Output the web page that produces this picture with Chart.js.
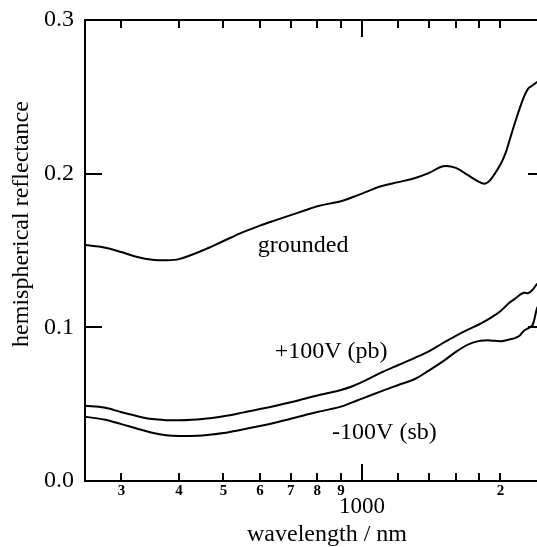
<!DOCTYPE html>
<html>
<head>
<meta charset="utf-8">
<script src="https://cdn.jsdelivr.net/npm/chart.js@4/dist/chart.umd.min.js"></script>
<style>
  html,body{margin:0;padding:0;background:#fff;overflow:hidden;}
  #wrap{width:537px;height:547px;overflow:hidden;}
</style>
</head>
<body>
<div id="wrap"><canvas id="c" width="552" height="547"></canvas></div>
<script>
/* ---- data ------------------------------------------------------------ */
const WAVELENGTH = [250,275,300,325,350,375,400,450,500,550,600,650,700,750,800,850,900,950,
  1000,1100,1200,1300,1400,1500,1600,1700,1800,1850,1900,2000,2050,2100,2150,2200,2250,2300,2350,2400,2450,2500];
const GROUNDED = [0.1536,0.1520,0.1490,0.1458,0.1440,0.1436,0.1444,0.1500,0.1562,0.1618,0.1662,0.1698,0.1730,0.1760,0.1788,0.1805,0.1820,0.1845,
  0.1870,0.1918,0.1945,0.1970,0.2005,0.2048,0.2038,0.1990,0.1945,0.1935,0.1958,0.2060,0.2130,0.2230,0.2330,0.2420,0.2500,0.2555,0.2575,0.2595,0.2610,0.2625];
const PLUS_100V = [0.0490,0.0478,0.0448,0.0422,0.0403,0.0396,0.0395,0.0404,0.0422,0.0445,0.0468,0.0490,0.0512,0.0535,0.0556,0.0574,0.0592,0.0615,
  0.0643,0.0705,0.0755,0.0800,0.0845,0.0898,0.0945,0.0985,0.1020,0.1040,0.1060,0.1105,0.1135,0.1165,0.1185,0.1210,0.1225,0.1223,0.1245,0.1280,0.1300,0.1320];
const MINUS_100V = [0.0418,0.0400,0.0370,0.0340,0.0314,0.0298,0.0293,0.0296,0.0312,0.0335,0.0358,0.0381,0.0405,0.0428,0.0449,0.0466,0.0484,0.0510,
  0.0536,0.0583,0.0625,0.0662,0.0720,0.0778,0.0840,0.0888,0.0912,0.0915,0.0915,0.0910,0.0915,0.0922,0.0930,0.0945,0.0978,0.0995,0.1015,0.1120,0.1180,0.1220];

const X_TICKS = [300,400,500,600,700,800,900,1000,1200,1400,1600,1800,2000];
const X_TICK_LABELS = ["3","4","5","6","7","8","9","1000","","","","","2"];
const Y_TICKS = [0, 0.1, 0.2, 0.3];
const CURVE_LABELS = [
  ["grounded",   745, 0.1531],
  ["+100V (pb)", 857, 0.0841],
  ["-100V (sb)", 1119, 0.0312]
];

const SERIF = "'Liberation Serif','Times New Roman',serif";
const pts = ys => WAVELENGTH.map((w,i)=>({x:w, y:ys[i]}));

/* ---- inward ticks, labels, titles ------------------------------------ */
const decor = {
  id: "decor",
  afterDraw(chart){
    const {ctx, chartArea:a, scales:{x, y}} = chart;
    ctx.save();
    ctx.strokeStyle = "#000"; ctx.lineWidth = 2; ctx.lineCap = "butt";
    ctx.beginPath();
    ctx.moveTo(a.left-1, a.top); ctx.lineTo(a.right, a.top);
    ctx.moveTo(a.right, a.top); ctx.lineTo(a.right, a.bottom);
    X_TICKS.forEach(v=>{
      const px = Math.round(x.getPixelForValue(v));
      const len = v===1000 ? 17 : 8;
      ctx.moveTo(px, a.bottom); ctx.lineTo(px, a.bottom-len);
      ctx.moveTo(px, a.top); ctx.lineTo(px, a.top+len);
    });
    Y_TICKS.slice(1,-1).forEach(v=>{
      const py = Math.round(y.getPixelForValue(v));
      ctx.moveTo(a.left, py); ctx.lineTo(a.left+17, py);
      ctx.moveTo(a.right, py); ctx.lineTo(a.right-17, py);
    });
    ctx.stroke();

    ctx.fillStyle = "#000";
    ctx.textAlign = "center"; ctx.textBaseline = "middle";
    X_TICKS.forEach((v,i)=>{
      const lab = X_TICK_LABELS[i];
      if(!lab) return;
      const px = x.getPixelForValue(v);
      if(v===1000){ ctx.font = "23px "+SERIF; ctx.fillText(lab, px, a.bottom+26); }
      else { ctx.font = "bold 15px "+SERIF; ctx.fillText(lab, px, a.bottom+10); }
    });

    ctx.font = "24px "+SERIF;
    CURVE_LABELS.forEach(([t,w,v])=> ctx.fillText(t, x.getPixelForValue(w), y.getPixelForValue(v)));

    ctx.fillText("wavelength / nm", 327, 535);
    ctx.translate(22, 224); ctx.rotate(-Math.PI/2);
    ctx.fillText("hemispherical reflectance", 0, 0);
    ctx.restore();
  }
};

const line = (data) => ({ data, borderColor:"#000", borderWidth:2, pointRadius:0,
  fill:false, tension:0.35 });

new Chart(document.getElementById("c"), {
  type: "line",
  data: { datasets: [ line(pts(GROUNDED)), line(pts(PLUS_100V)), line(pts(MINUS_100V)) ] },
  options: {
    responsive: false, animation: false,
    layout: { padding: { top: 20, right: 7, left: 0, bottom: 0 } },
    plugins: { legend:{display:false}, tooltip:{enabled:false} },
    scales: {
      x: { type:"logarithmic", min:250, max:2500,
        grid:{display:false, drawTicks:false},
        border:{display:true, color:"#000", width:2},
        ticks:{display:false},
        afterFit: s => { s.height = 66; s.paddingLeft = 0; s.paddingRight = 0; } },
      y: { min:0, max:0.3,
        grid:{display:false, drawTicks:false},
        border:{display:true, color:"#000", width:2},
        afterBuildTicks: s => { s.ticks = Y_TICKS.map(v=>({value:v})); },
        ticks:{ padding:11, color:"#000", font:{family:SERIF, size:24},
          callback: v => v.toFixed(1) },
        afterFit: s => { s.width = 85; s.paddingTop = 0; s.paddingBottom = 0; } }
    }
  },
  plugins: [decor]
});
</script>
</body>
</html>
